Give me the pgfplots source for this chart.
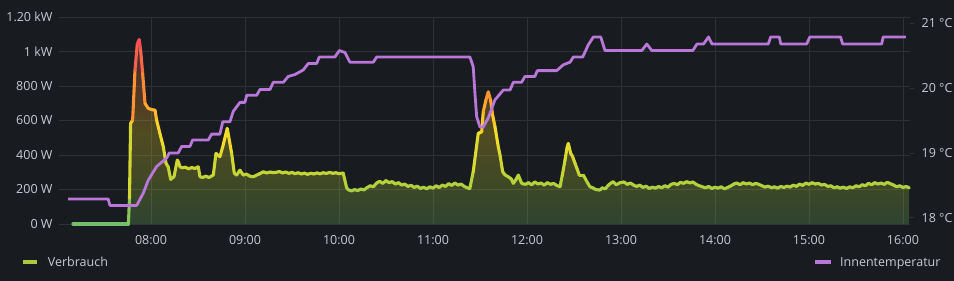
\documentclass[border=0pt]{standalone}
\usepackage{fontspec}
\setmainfont{Open Sans}
\usepackage{pgfplots}
\usepackage{pgfplotstable}
\pgfplotsset{compat=1.18}
\definecolor{bg}{HTML}{181B1F}
\definecolor{gridc}{HTML}{2E3136}
\definecolor{txt}{HTML}{C9CAD3}
\definecolor{tpurple}{HTML}{B877D9}
\definecolor{pgreen}{RGB}{115,191,105}
\definecolor{pyg}{RGB}{184,210,56}
\definecolor{pyellow}{RGB}{250,222,42}
\definecolor{porange}{RGB}{255,152,48}
\definecolor{pred}{RGB}{242,73,92}
\definecolor{legg}{RGB}{172,200,60}
\pgfdeclareverticalshading{powerfill}{100bp}{color(0bp)=(pgreen); color(25bp)=(pgreen); color(36.7bp)=(pyg); color(50bp)=(pyellow); color(59bp)=(porange); color(75bp)=(pred); color(100bp)=(pred)}
\pgfplotsset{colormap={power}{rgb255(0pt)=(115,191,105); rgb255(250pt)=(184,210,56); rgb255(535pt)=(250,222,42); rgb255(728pt)=(255,152,48); rgb255(1071pt)=(242,73,92)}}

\pgfplotstableread{
m w
10.2 0
45.6 0
46.3 150
47.0 584
48.3 603
49.8 893
51.3 1047
52.5 1071
53.4 1009
54.7 874
56.2 700
58.3 671
60.5 664
62.6 661
63.6 603
65.7 526
67.9 448
69.6 352
71.0 332
72.6 259
74.7 274
76.8 371
77.6 360
78.5 332
80.0 326
82.0 330
84.0 320
86.0 328
88.0 322
90.2 332
91.3 274
93.0 270
95.0 278
97.0 270
99.8 284
101.5 410
104.0 390
105.8 448
108.7 555
111.5 410
113.2 294
114.7 284
116.8 313
118.9 284
121.0 290
123.0 278
125.3 274
127.0 282
129.0 290
131.7 303
134.0 296
136.0 302
138.0 298
140.0 300
142.0 305
144.0 296
146.0 302
148.0 294
150.0 300
152.0 292
154.0 298
156.0 290
158.0 296
160.0 288
162.0 295
164.0 290
166.0 297
168.0 291
170.0 298
172.0 293
174.0 300
176.0 294
178.0 298
180.0 292
182.7 296
184.9 210
186.0 198
188.0 192
190.0 200
192.0 194
194.0 203
196.0 198
198.0 212
200.0 222
202.0 216
204.0 238
206.0 248
208.0 236
210.0 252
212.0 240
214.0 246
216.0 232
218.0 240
220.0 226
222.0 232
224.0 218
226.0 225
228.0 212
230.0 220
232.0 206
234.0 214
236.0 204
238.0 216
240.0 208
242.0 222
244.0 212
246.0 226
248.0 218
250.0 234
252.0 224
254.0 238
256.0 226
258.0 232
260.0 218
262.0 210
263.5 205
265.7 303
268.9 526
271.1 535
272.1 651
273.8 719
275.3 767
276.8 719
278.1 632
279.6 564
281.7 448
282.8 400
284.5 303
286.0 285
288.1 274
290.0 262
291.3 236
293.0 258
294.5 284
296.6 236
299.0 230
301.0 240
303.0 228
305.0 244
307.0 232
309.0 238
311.0 226
313.0 240
315.0 230
317.0 236
319.0 224
321.1 216
322.5 280
324.3 371
325.5 440
326.4 468
327.9 410
329.0 395
330.7 352
332.0 320
333.4 284
336.0 284
338.0 250
340.2 216
342.0 210
344.0 200
346.6 197
348.0 210
350.0 204
352.0 226
354.0 240
355.1 245
357.0 228
359.4 240
362.0 244
364.0 230
366.0 238
368.0 226
370.0 218
372.0 226
374.0 212
376.0 220
378.0 206
380.0 214
382.0 208
384.0 218
386.0 210
388.0 222
390.0 214
392.0 230
394.0 236
396.0 228
398.0 242
400.0 236
402.0 246
404.0 238
406.0 244
408.0 230
410.0 222
412.0 216
414.0 210
416.0 218
418.0 206
420.0 214
422.0 208
424.0 216
426.0 204
428.0 212
430.0 220
432.0 232
434.0 238
436.0 228
438.0 240
440.0 232
442.0 238
444.0 228
446.0 236
448.0 230
450.0 222
452.0 214
454.0 220
456.0 210
458.0 216
460.0 208
462.0 218
464.0 212
466.0 220
468.0 214
470.0 226
472.0 218
474.0 232
476.0 224
478.0 238
480.0 230
482.0 240
484.0 232
486.0 236
488.0 226
490.0 230
492.0 218
494.0 222
496.0 210
498.0 216
500.0 208
502.0 214
504.0 206
506.0 216
508.0 210
510.0 222
512.0 216
514.0 228
516.0 222
518.0 236
520.0 228
522.0 240
524.0 232
526.0 238
528.0 230
530.0 242
532.0 234
534.0 226
536.0 216
538.0 222
540.0 212
542.0 218
544.0 210
}\power

\pgfplotstableread{
m t
7.2 18.29
32.7 18.29
33.8 18.19
50.9 18.19
55.1 18.38
58.3 18.58
63.6 18.79
70.0 18.92
71.7 19.00
77.4 19.00
79.6 19.10
84.9 19.10
86.6 19.20
96.6 19.20
98.7 19.29
104.0 19.29
105.8 19.48
110.4 19.48
112.5 19.64
116.8 19.78
120.0 19.78
121.1 19.89
127.5 19.89
129.6 19.98
136.0 19.98
138.1 20.09
144.5 20.09
147.6 20.18
151.9 20.21
157.2 20.28
160.4 20.38
165.8 20.38
167.4 20.48
177.4 20.48
180.2 20.58
183.8 20.55
187.0 20.40
201.9 20.40
204.1 20.48
263.6 20.48
265.7 20.33
266.8 19.92
267.9 19.56
270.0 19.40
272.1 19.40
275.3 19.54
279.6 19.82
284.9 19.97
289.2 19.97
291.3 20.09
296.6 20.09
298.7 20.18
305.1 20.18
306.6 20.27
319.0 20.27
323.2 20.36
327.5 20.40
329.6 20.48
335.6 20.48
339.2 20.67
342.4 20.79
347.1 20.79
349.8 20.58
373.3 20.58
376.5 20.68
379.7 20.58
405.9 20.58
408.5 20.68
412.7 20.68
415.9 20.79
418.1 20.68
454.0 20.68
455.6 20.79
461.1 20.79
462.0 20.68
478.5 20.68
480.6 20.79
500.2 20.79
501.5 20.68
526.4 20.68
527.4 20.79
541.9 20.79
}\temp

\begin{document}
\begin{tikzpicture}
\useasboundingbox (-59bp,-57bp) rectangle (895bp,224bp);
\fill[bg] (-59bp,-57bp) rectangle (895bp,224bp);
\begin{axis}[
 at={(0,0)}, anchor=south west, scale only axis,
 width=851bp, height=206.7bp,
 xmin=1.3, xmax=544.5, ymin=0, ymax=1200,
 clip=false,
 xtick={60,120,...,540},
 xticklabels={08:00,09:00,10:00,11:00,12:00,13:00,14:00,15:00,16:00},
 ytick={0,200,...,1200},
 yticklabels={0 W,200 W,400 W,600 W,800 W,1 kW,1.20 kW},
 grid=major, major grid style={gridc, line width=0.8bp},
 axis line style={draw=none}, major tick length=0pt,
 tick label style={font=\fontsize{12.5bp}{14bp}\selectfont, text=txt},
 xticklabel style={anchor=base, inner sep=0pt, yshift=-20.3bp},
 yticklabel style={anchor=base east, inner sep=0pt, xshift=-6.3bp, yshift=-4.3bp},
 colormap name=power, point meta min=0, point meta max=1071,
]
\addplot[draw=none, shading=powerfill, fill opacity=0.25] table[x=m, y=w] {\power} \closedcycle;
\addplot[mesh, point meta=y, line width=3.1bp, line cap=round, line join=round] table[x=m, y=w] {\power};
\end{axis}
\begin{axis}[
 at={(0,0)}, anchor=south west, scale only axis,
 width=851bp, height=206.7bp,
 xmin=1.3, xmax=544.5, ymin=17.903, ymax=21.093,
 axis y line*=right, axis x line=none,
 ytick={18,19,20,21}, yticklabels={18 °C,19 °C,20 °C,21 °C},
 axis line style={draw=none},
 tick align=outside, major tick length=4bp,
 ytick style={gridc, line width=0.8bp},
 tick label style={font=\fontsize{12.5bp}{14bp}\selectfont, text=txt},
 yticklabel style={anchor=base west, inner sep=0pt, xshift=7.5bp, yshift=-4.3bp},
]
\addplot[tpurple, line width=2.8bp, line join=round] table[x=m, y=t] {\temp};
\end{axis}
\draw[legg, line width=4bp] (-36.3bp,-38.3bp) -- (-21.7bp,-38.3bp);
\node[anchor=base west, inner sep=0pt, text=txt, font=\fontsize{12.5bp}{14bp}\selectfont] at (-11.3bp,-42.6bp) {Verbrauch};
\draw[tpurple, line width=4bp] (756bp,-38.3bp) -- (771.7bp,-38.3bp);
\node[anchor=base west, inner sep=0pt, text=txt, font=\fontsize{12.5bp}{14bp}\selectfont] at (781bp,-42.6bp) {Innentemperatur};
\end{tikzpicture}
\end{document}
